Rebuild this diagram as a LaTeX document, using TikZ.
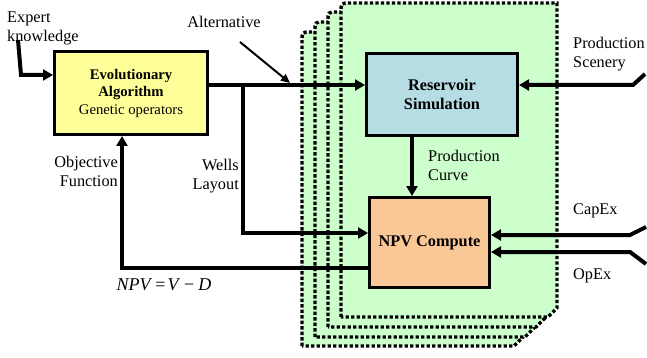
\documentclass[tikz,border=0pt]{standalone}
\usepackage{fontspec}
\setmainfont{Liberation Serif}
\usetikzlibrary{arrows.meta,calc}
\definecolor{pagegreen}{RGB}{204,255,204}
\definecolor{eayellow}{RGB}{255,255,153}
\definecolor{rsblue}{RGB}{183,221,228}
\definecolor{npvorange}{RGB}{250,200,150}
\newcommand{\stackpage}[4]{%
  \draw[page] (#1,#4) -- (#1,#2+9) .. controls (#1,#2) .. (#1+9,#2) -- (#3,#2) -- (#3,#4-9) -- (#3-9,#4) -- cycle;}
\begin{document}
\begin{tikzpicture}[x=1pt,y=-1pt,
  font=\fontsize{16.3}{19}\selectfont,
  page/.style={fill=pagegreen, draw=black, line width=3.4pt, dash pattern=on 3.3pt off 2.2pt},
  box/.style={draw=black, line width=3pt, inner sep=0pt, align=center},
  conn/.style={line width=4pt, -{Triangle[length=10pt,width=11pt]}},
  thinconn/.style={line width=2pt, -{Triangle[length=9pt,width=8pt]}},
  lbl/.style={inner sep=0pt}]
\useasboundingbox (0,0) rectangle (647,358);
% stacked pages
\stackpage{302}{32}{523}{346}
\stackpage{315}{22}{534}{337}
\stackpage{328}{12}{545}{327}
\stackpage{341}{3}{557}{317}
% boxes
\node[box, fill=eayellow, minimum width=153pt, minimum height=83pt,
  font=\fontsize{14.7}{17.5}\selectfont] (ea) at (131,93)
  {\textbf{Evolutionary}\\\textbf{Algorithm}\\Genetic operators};
\node[box, fill=rsblue, minimum width=151pt, minimum height=82pt] (rs) at (442,94.5)
  {\textbf{Reservoir}\\\textbf{Simulation}};
\node[box, fill=npvorange, minimum width=120pt, minimum height=90pt] (npv) at (429.5,242.5)
  {\textbf{NPV Compute}};
% labels
\node[lbl, anchor=west, align=left] (lek) at (7,28) {Expert\\knowledge};
\node[lbl] (lalt) at (224,22) {Alternative};
\node[lbl, anchor=east, align=right] (lobj) at (118,171) {Objective\\Function};
\node[lbl, anchor=east, align=right] (lwl) at (239,176) {Wells\\Layout};
\node[lbl, font=\fontsize{18}{20}\selectfont] (lnpv) at (164,285)
  {\textit{NPV}\hspace{3pt}=\hspace{2pt}\textit{V}\hspace{4pt}−\hspace{4pt}\textit{D}};
\node[lbl, anchor=west, align=left] (lpc) at (428,165) {Production\\Curve};
\node[lbl, anchor=west, align=left] (lps) at (573,54) {Production\\Scenery};
\node[lbl, anchor=west] (lcap) at (573,211) {CapEx};
\node[lbl, anchor=west] (lop) at (573,276) {OpEx};
% free ends
\coordinate (ek) at (18,40);
\coordinate (alt) at (240,42);
\coordinate (altend) at (290,83);
\coordinate (wj) at (243,85);
\coordinate (ps) at (645,74);
\coordinate (cx) at (646,227);
\coordinate (ox) at (646,264);
% connectors
\draw[conn] (ek) -- (21,75) -- (ea.west |- 0,75);
\draw[conn] (ea.east |- 0,85) -- (rs.west |- 0,85);
\draw[thinconn] (alt) -- (altend);
\draw[conn] (wj) -- (243,233) -- (npv.west |- 0,233);
\draw[conn] (npv.west |- 0,268) -- (122,268) -- (ea.south -| 122,0);
\draw[conn] (rs.south -| 412,0) -- (npv.north -| 412,0);
\draw[conn] (ps) -- (633,85) -- (rs.east |- 0,85);
\draw[conn] (cx) -- (630,235) -- (npv.east |- 0,235);
\draw[conn] (ox) -- (630,252) -- (npv.east |- 0,252);
\end{tikzpicture}
\end{document}
